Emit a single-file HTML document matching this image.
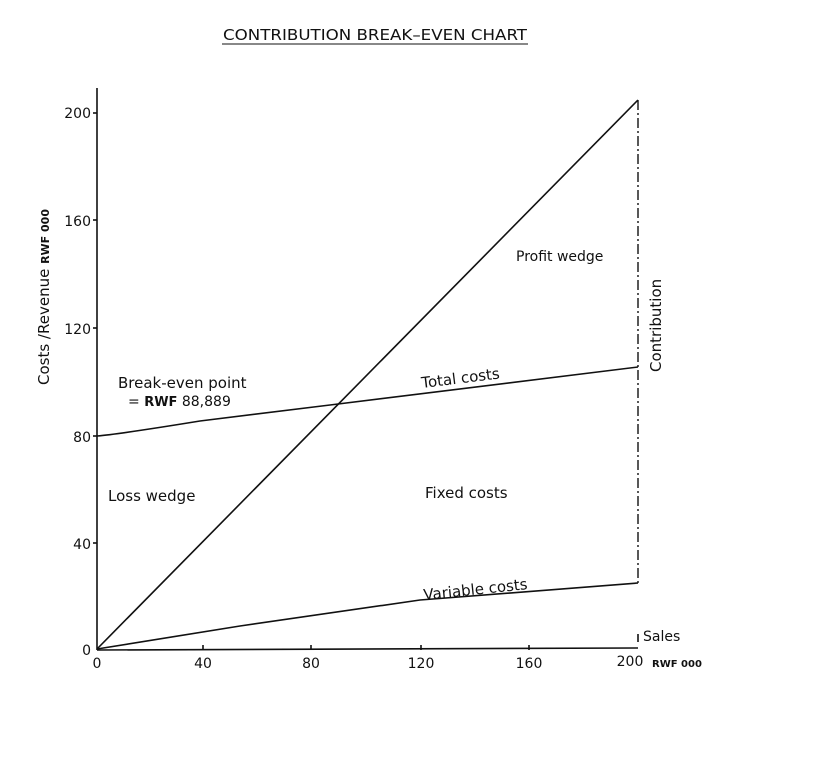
<!DOCTYPE html>
<html><head><style>body{margin:0;background:#fff}svg text{font-family:"DejaVu Sans","Liberation Sans",sans-serif;fill:#111}</style></head>
<body>
<svg width="819" height="778" viewBox="0 0 819 778" xmlns="http://www.w3.org/2000/svg">
<text x="375" y="40" font-size="15" text-anchor="middle" textLength="304" lengthAdjust="spacingAndGlyphs">CONTRIBUTION BREAK–EVEN CHART</text>
<line x1="222" y1="44" x2="528" y2="44" stroke="#111" stroke-width="1"/>
<g stroke="#111" stroke-width="1.6" fill="none">
<line x1="97" y1="88" x2="97" y2="650"/>
<line x1="97" y1="650" x2="638" y2="648"/>
<line x1="638" y1="642" x2="638" y2="634"/>
<line x1="97" y1="649" x2="638" y2="100"/>
<path d="M97 436 Q120 434 200 421 L330 405 L638 367"/>
<path d="M97 649 L240 626 L420 600 L638 583"/>
<line x1="638" y1="100" x2="638" y2="583" stroke-dasharray="10,3,2,3" stroke-width="1.4"/>
<line x1="93" y1="113" x2="97" y2="113"/><line x1="93" y1="220" x2="97" y2="220"/>
<line x1="93" y1="328" x2="97" y2="328"/><line x1="93" y1="436" x2="97" y2="436"/>
<line x1="93" y1="543" x2="97" y2="543"/>
<line x1="203" y1="650" x2="203" y2="645"/><line x1="311" y1="650" x2="311" y2="645"/>
<line x1="421" y1="650" x2="421" y2="645"/><line x1="529" y1="650" x2="529" y2="645"/>
</g>
<g font-size="14" text-anchor="end">
<text x="91" y="118">200</text><text x="91" y="226">160</text><text x="91" y="334">120</text>
<text x="91" y="442">80</text><text x="91" y="549">40</text><text x="91" y="655">0</text>
</g>
<g font-size="14" text-anchor="middle">
<text x="97" y="668">0</text><text x="203" y="668">40</text><text x="311" y="668">80</text>
<text x="421" y="668">120</text><text x="529" y="668">160</text><text x="630" y="666">200</text>
</g>
<text x="652" y="667" font-size="10" font-weight="bold">RWF 000</text>
<text x="643" y="641" font-size="14">Sales</text>
<text transform="translate(49,385) rotate(-90)" font-size="15">Costs /Revenue <tspan font-size="11" font-weight="bold">RWF 000</tspan></text>
<text transform="translate(661,372) rotate(-90)" font-size="15">Contribution</text>
<text x="118" y="388" font-size="15">Break-even point</text>
<text x="128" y="406" font-size="14">= <tspan font-weight="bold" font-size="13">RWF</tspan>  88,889</text>
<text x="108" y="501" font-size="15">Loss wedge</text>
<text x="425" y="498" font-size="15">Fixed costs</text>
<text x="516" y="261" font-size="14">Profit wedge</text>
<text transform="translate(422,388) rotate(-7)" font-size="15">Total costs</text>
<text transform="translate(424,600) rotate(-6)" font-size="15">Variable costs</text>
</svg>
</body></html>
